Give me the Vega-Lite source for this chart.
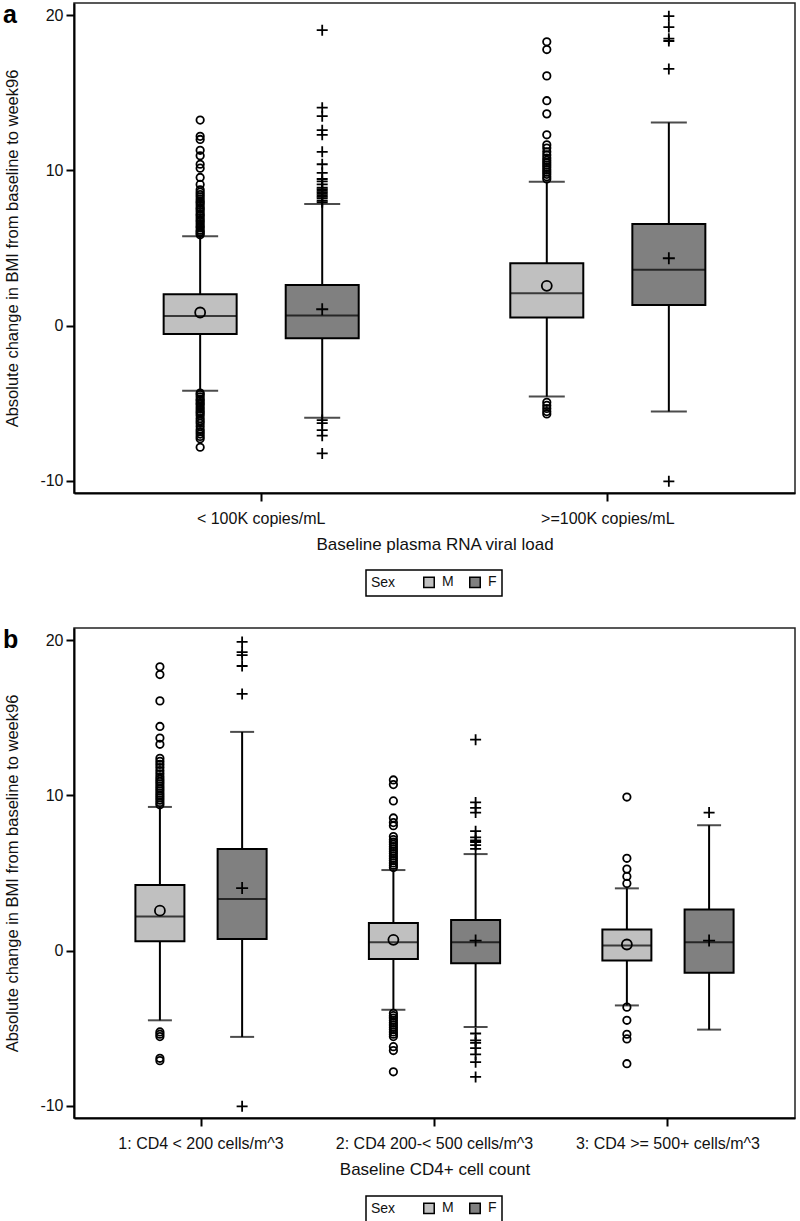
{
  "$schema": "https://vega.github.io/schema/vega-lite/v6.json",
  "background": "white",
  "padding": {"left": 2, "top": 2, "right": 2, "bottom": 2},
  "spacing": 29,
  "datasets": {
    "statsA": [
      {"c": "< 100K copies/mL", "s": "M", "lo": -4.21, "q1": -0.54, "med": 0.62, "q3": 2.02, "hi": 5.76, "mean": 0.84},
      {"c": "< 100K copies/mL", "s": "F", "lo": -5.94, "q1": -0.82, "med": 0.65, "q3": 2.62, "hi": 7.83, "mean": 1.05},
      {"c": ">=100K copies/mL", "s": "M", "lo": -4.58, "q1": 0.52, "med": 2.08, "q3": 4.02, "hi": 9.27, "mean": 2.56},
      {"c": ">=100K copies/mL", "s": "F", "lo": -5.55, "q1": 1.33, "med": 3.59, "q3": 6.54, "hi": 13.1, "mean": 4.34}
    ],
    "outA": [
      {"c": "< 100K copies/mL", "s": "M", "v": 5.85}, {"c": "< 100K copies/mL", "s": "M", "v": 5.95}, {"c": "< 100K copies/mL", "s": "M", "v": 6.05}, {"c": "< 100K copies/mL", "s": "M", "v": 6.15},
      {"c": "< 100K copies/mL", "s": "M", "v": 6.3}, {"c": "< 100K copies/mL", "s": "M", "v": 6.4}, {"c": "< 100K copies/mL", "s": "M", "v": 6.55}, {"c": "< 100K copies/mL", "s": "M", "v": 6.7},
      {"c": "< 100K copies/mL", "s": "M", "v": 6.8}, {"c": "< 100K copies/mL", "s": "M", "v": 6.95}, {"c": "< 100K copies/mL", "s": "M", "v": 7.1}, {"c": "< 100K copies/mL", "s": "M", "v": 7.2},
      {"c": "< 100K copies/mL", "s": "M", "v": 7.35}, {"c": "< 100K copies/mL", "s": "M", "v": 7.5}, {"c": "< 100K copies/mL", "s": "M", "v": 7.6}, {"c": "< 100K copies/mL", "s": "M", "v": 7.75},
      {"c": "< 100K copies/mL", "s": "M", "v": 7.9}, {"c": "< 100K copies/mL", "s": "M", "v": 8.0}, {"c": "< 100K copies/mL", "s": "M", "v": 8.15}, {"c": "< 100K copies/mL", "s": "M", "v": 8.3},
      {"c": "< 100K copies/mL", "s": "M", "v": 8.45}, {"c": "< 100K copies/mL", "s": "M", "v": 8.6}, {"c": "< 100K copies/mL", "s": "M", "v": 8.75}, {"c": "< 100K copies/mL", "s": "M", "v": 9.1},
      {"c": "< 100K copies/mL", "s": "M", "v": 9.55}, {"c": "< 100K copies/mL", "s": "M", "v": 10.15}, {"c": "< 100K copies/mL", "s": "M", "v": 10.4}, {"c": "< 100K copies/mL", "s": "M", "v": 10.95},
      {"c": "< 100K copies/mL", "s": "M", "v": 11.3}, {"c": "< 100K copies/mL", "s": "M", "v": 12.0}, {"c": "< 100K copies/mL", "s": "M", "v": 12.2}, {"c": "< 100K copies/mL", "s": "M", "v": 13.25},
      {"c": "< 100K copies/mL", "s": "M", "v": -4.35}, {"c": "< 100K copies/mL", "s": "M", "v": -4.45}, {"c": "< 100K copies/mL", "s": "M", "v": -4.6}, {"c": "< 100K copies/mL", "s": "M", "v": -4.75},
      {"c": "< 100K copies/mL", "s": "M", "v": -4.85}, {"c": "< 100K copies/mL", "s": "M", "v": -5.0}, {"c": "< 100K copies/mL", "s": "M", "v": -5.1}, {"c": "< 100K copies/mL", "s": "M", "v": -5.25},
      {"c": "< 100K copies/mL", "s": "M", "v": -5.4}, {"c": "< 100K copies/mL", "s": "M", "v": -5.55}, {"c": "< 100K copies/mL", "s": "M", "v": -5.65}, {"c": "< 100K copies/mL", "s": "M", "v": -5.8},
      {"c": "< 100K copies/mL", "s": "M", "v": -6.0}, {"c": "< 100K copies/mL", "s": "M", "v": -6.15}, {"c": "< 100K copies/mL", "s": "M", "v": -6.3}, {"c": "< 100K copies/mL", "s": "M", "v": -6.5},
      {"c": "< 100K copies/mL", "s": "M", "v": -6.7}, {"c": "< 100K copies/mL", "s": "M", "v": -6.85}, {"c": "< 100K copies/mL", "s": "M", "v": -7.0}, {"c": "< 100K copies/mL", "s": "M", "v": -7.15},
      {"c": "< 100K copies/mL", "s": "M", "v": -7.3}, {"c": "< 100K copies/mL", "s": "M", "v": -7.85},
      {"c": "< 100K copies/mL", "s": "F", "v": 7.95}, {"c": "< 100K copies/mL", "s": "F", "v": 8.05}, {"c": "< 100K copies/mL", "s": "F", "v": 8.2}, {"c": "< 100K copies/mL", "s": "F", "v": 8.3},
      {"c": "< 100K copies/mL", "s": "F", "v": 8.4}, {"c": "< 100K copies/mL", "s": "F", "v": 8.5}, {"c": "< 100K copies/mL", "s": "F", "v": 8.6}, {"c": "< 100K copies/mL", "s": "F", "v": 8.7},
      {"c": "< 100K copies/mL", "s": "F", "v": 8.8}, {"c": "< 100K copies/mL", "s": "F", "v": 8.9}, {"c": "< 100K copies/mL", "s": "F", "v": 9.1}, {"c": "< 100K copies/mL", "s": "F", "v": 9.3},
      {"c": "< 100K copies/mL", "s": "F", "v": 9.45}, {"c": "< 100K copies/mL", "s": "F", "v": 9.85}, {"c": "< 100K copies/mL", "s": "F", "v": 10.4}, {"c": "< 100K copies/mL", "s": "F", "v": 11.2},
      {"c": "< 100K copies/mL", "s": "F", "v": 12.3}, {"c": "< 100K copies/mL", "s": "F", "v": 12.6}, {"c": "< 100K copies/mL", "s": "F", "v": 13.5}, {"c": "< 100K copies/mL", "s": "F", "v": 14.05},
      {"c": "< 100K copies/mL", "s": "F", "v": 19.05},
      {"c": "< 100K copies/mL", "s": "F", "v": -6.1}, {"c": "< 100K copies/mL", "s": "F", "v": -6.3}, {"c": "< 100K copies/mL", "s": "F", "v": -6.75}, {"c": "< 100K copies/mL", "s": "F", "v": -7.1},
      {"c": "< 100K copies/mL", "s": "F", "v": -8.25},
      {"c": ">=100K copies/mL", "s": "M", "v": 9.45}, {"c": ">=100K copies/mL", "s": "M", "v": 9.6}, {"c": ">=100K copies/mL", "s": "M", "v": 9.75}, {"c": ">=100K copies/mL", "s": "M", "v": 9.9},
      {"c": ">=100K copies/mL", "s": "M", "v": 10.05}, {"c": ">=100K copies/mL", "s": "M", "v": 10.2}, {"c": ">=100K copies/mL", "s": "M", "v": 10.35}, {"c": ">=100K copies/mL", "s": "M", "v": 10.5},
      {"c": ">=100K copies/mL", "s": "M", "v": 10.65}, {"c": ">=100K copies/mL", "s": "M", "v": 10.8}, {"c": ">=100K copies/mL", "s": "M", "v": 11.0}, {"c": ">=100K copies/mL", "s": "M", "v": 11.2},
      {"c": ">=100K copies/mL", "s": "M", "v": 11.45}, {"c": ">=100K copies/mL", "s": "M", "v": 11.65}, {"c": ">=100K copies/mL", "s": "M", "v": 12.3}, {"c": ">=100K copies/mL", "s": "M", "v": 13.65},
      {"c": ">=100K copies/mL", "s": "M", "v": 14.5}, {"c": ">=100K copies/mL", "s": "M", "v": 16.1}, {"c": ">=100K copies/mL", "s": "M", "v": 17.8}, {"c": ">=100K copies/mL", "s": "M", "v": 18.3},
      {"c": ">=100K copies/mL", "s": "M", "v": -4.95}, {"c": ">=100K copies/mL", "s": "M", "v": -5.15}, {"c": ">=100K copies/mL", "s": "M", "v": -5.35}, {"c": ">=100K copies/mL", "s": "M", "v": -5.55},
      {"c": ">=100K copies/mL", "s": "M", "v": -5.7},
      {"c": ">=100K copies/mL", "s": "F", "v": 16.55}, {"c": ">=100K copies/mL", "s": "F", "v": 18.35}, {"c": ">=100K copies/mL", "s": "F", "v": 18.5}, {"c": ">=100K copies/mL", "s": "F", "v": 19.25},
      {"c": ">=100K copies/mL", "s": "F", "v": 19.95}, {"c": ">=100K copies/mL", "s": "F", "v": -10.05}
    ],
    "statsB": [
      {"c": "1: CD4 < 200 cells/m^3", "s": "M", "lo": -4.5, "q1": 0.6, "med": 2.19, "q3": 4.22, "hi": 9.26, "mean": 2.57},
      {"c": "1: CD4 < 200 cells/m^3", "s": "F", "lo": -5.57, "q1": 0.75, "med": 3.32, "q3": 6.54, "hi": 14.1, "mean": 4.03},
      {"c": "2: CD4 200-< 500 cells/m^3", "s": "M", "lo": -3.82, "q1": -0.54, "med": 0.54, "q3": 1.78, "hi": 5.19, "mean": 0.69},
      {"c": "2: CD4 200-< 500 cells/m^3", "s": "F", "lo": -4.93, "q1": -0.82, "med": 0.54, "q3": 1.97, "hi": 6.22, "mean": 0.64},
      {"c": "3: CD4 >= 500+ cells/m^3", "s": "M", "lo": -3.54, "q1": -0.64, "med": 0.32, "q3": 1.35, "hi": 4.01, "mean": 0.39},
      {"c": "3: CD4 >= 500+ cells/m^3", "s": "F", "lo": -5.1, "q1": -1.44, "med": 0.54, "q3": 2.64, "hi": 8.08, "mean": 0.64}
    ],
    "outB": [
      {"c": "1: CD4 < 200 cells/m^3", "s": "M", "v": 9.4}, {"c": "1: CD4 < 200 cells/m^3", "s": "M", "v": 9.55}, {"c": "1: CD4 < 200 cells/m^3", "s": "M", "v": 9.7}, {"c": "1: CD4 < 200 cells/m^3", "s": "M", "v": 9.85},
      {"c": "1: CD4 < 200 cells/m^3", "s": "M", "v": 10.0}, {"c": "1: CD4 < 200 cells/m^3", "s": "M", "v": 10.15}, {"c": "1: CD4 < 200 cells/m^3", "s": "M", "v": 10.3}, {"c": "1: CD4 < 200 cells/m^3", "s": "M", "v": 10.45},
      {"c": "1: CD4 < 200 cells/m^3", "s": "M", "v": 10.6}, {"c": "1: CD4 < 200 cells/m^3", "s": "M", "v": 10.75}, {"c": "1: CD4 < 200 cells/m^3", "s": "M", "v": 10.9}, {"c": "1: CD4 < 200 cells/m^3", "s": "M", "v": 11.05},
      {"c": "1: CD4 < 200 cells/m^3", "s": "M", "v": 11.2}, {"c": "1: CD4 < 200 cells/m^3", "s": "M", "v": 11.4}, {"c": "1: CD4 < 200 cells/m^3", "s": "M", "v": 11.6}, {"c": "1: CD4 < 200 cells/m^3", "s": "M", "v": 11.8},
      {"c": "1: CD4 < 200 cells/m^3", "s": "M", "v": 12.0}, {"c": "1: CD4 < 200 cells/m^3", "s": "M", "v": 12.2}, {"c": "1: CD4 < 200 cells/m^3", "s": "M", "v": 12.4}, {"c": "1: CD4 < 200 cells/m^3", "s": "M", "v": 13.3},
      {"c": "1: CD4 < 200 cells/m^3", "s": "M", "v": 13.7}, {"c": "1: CD4 < 200 cells/m^3", "s": "M", "v": 14.45}, {"c": "1: CD4 < 200 cells/m^3", "s": "M", "v": 16.1}, {"c": "1: CD4 < 200 cells/m^3", "s": "M", "v": 17.8},
      {"c": "1: CD4 < 200 cells/m^3", "s": "M", "v": 18.3},
      {"c": "1: CD4 < 200 cells/m^3", "s": "M", "v": -5.25}, {"c": "1: CD4 < 200 cells/m^3", "s": "M", "v": -5.4}, {"c": "1: CD4 < 200 cells/m^3", "s": "M", "v": -5.55}, {"c": "1: CD4 < 200 cells/m^3", "s": "M", "v": -6.95},
      {"c": "1: CD4 < 200 cells/m^3", "s": "M", "v": -7.1},
      {"c": "1: CD4 < 200 cells/m^3", "s": "F", "v": 16.55}, {"c": "1: CD4 < 200 cells/m^3", "s": "F", "v": 18.35}, {"c": "1: CD4 < 200 cells/m^3", "s": "F", "v": 19.05}, {"c": "1: CD4 < 200 cells/m^3", "s": "F", "v": 19.25},
      {"c": "1: CD4 < 200 cells/m^3", "s": "F", "v": 19.9}, {"c": "1: CD4 < 200 cells/m^3", "s": "F", "v": -10.05},
      {"c": "2: CD4 200-< 500 cells/m^3", "s": "M", "v": 5.35}, {"c": "2: CD4 200-< 500 cells/m^3", "s": "M", "v": 5.5}, {"c": "2: CD4 200-< 500 cells/m^3", "s": "M", "v": 5.65}, {"c": "2: CD4 200-< 500 cells/m^3", "s": "M", "v": 5.8},
      {"c": "2: CD4 200-< 500 cells/m^3", "s": "M", "v": 5.95}, {"c": "2: CD4 200-< 500 cells/m^3", "s": "M", "v": 6.1}, {"c": "2: CD4 200-< 500 cells/m^3", "s": "M", "v": 6.25}, {"c": "2: CD4 200-< 500 cells/m^3", "s": "M", "v": 6.4},
      {"c": "2: CD4 200-< 500 cells/m^3", "s": "M", "v": 6.55}, {"c": "2: CD4 200-< 500 cells/m^3", "s": "M", "v": 6.7}, {"c": "2: CD4 200-< 500 cells/m^3", "s": "M", "v": 6.85}, {"c": "2: CD4 200-< 500 cells/m^3", "s": "M", "v": 7.0},
      {"c": "2: CD4 200-< 500 cells/m^3", "s": "M", "v": 7.15}, {"c": "2: CD4 200-< 500 cells/m^3", "s": "M", "v": 7.35}, {"c": "2: CD4 200-< 500 cells/m^3", "s": "M", "v": 8.05}, {"c": "2: CD4 200-< 500 cells/m^3", "s": "M", "v": 8.25},
      {"c": "2: CD4 200-< 500 cells/m^3", "s": "M", "v": 8.55}, {"c": "2: CD4 200-< 500 cells/m^3", "s": "M", "v": 9.65}, {"c": "2: CD4 200-< 500 cells/m^3", "s": "M", "v": 10.7}, {"c": "2: CD4 200-< 500 cells/m^3", "s": "M", "v": 11.0},
      {"c": "2: CD4 200-< 500 cells/m^3", "s": "M", "v": -4.05}, {"c": "2: CD4 200-< 500 cells/m^3", "s": "M", "v": -4.2}, {"c": "2: CD4 200-< 500 cells/m^3", "s": "M", "v": -4.35}, {"c": "2: CD4 200-< 500 cells/m^3", "s": "M", "v": -4.5},
      {"c": "2: CD4 200-< 500 cells/m^3", "s": "M", "v": -4.65}, {"c": "2: CD4 200-< 500 cells/m^3", "s": "M", "v": -4.8}, {"c": "2: CD4 200-< 500 cells/m^3", "s": "M", "v": -4.95}, {"c": "2: CD4 200-< 500 cells/m^3", "s": "M", "v": -5.1},
      {"c": "2: CD4 200-< 500 cells/m^3", "s": "M", "v": -5.25}, {"c": "2: CD4 200-< 500 cells/m^3", "s": "M", "v": -5.4}, {"c": "2: CD4 200-< 500 cells/m^3", "s": "M", "v": -5.55}, {"c": "2: CD4 200-< 500 cells/m^3", "s": "M", "v": -6.2},
      {"c": "2: CD4 200-< 500 cells/m^3", "s": "M", "v": -6.45}, {"c": "2: CD4 200-< 500 cells/m^3", "s": "M", "v": -7.82},
      {"c": "2: CD4 200-< 500 cells/m^3", "s": "F", "v": 6.55}, {"c": "2: CD4 200-< 500 cells/m^3", "s": "F", "v": 6.8}, {"c": "2: CD4 200-< 500 cells/m^3", "s": "F", "v": 7.0}, {"c": "2: CD4 200-< 500 cells/m^3", "s": "F", "v": 7.1},
      {"c": "2: CD4 200-< 500 cells/m^3", "s": "F", "v": 7.3}, {"c": "2: CD4 200-< 500 cells/m^3", "s": "F", "v": 7.7}, {"c": "2: CD4 200-< 500 cells/m^3", "s": "F", "v": 8.9}, {"c": "2: CD4 200-< 500 cells/m^3", "s": "F", "v": 9.2},
      {"c": "2: CD4 200-< 500 cells/m^3", "s": "F", "v": 9.55}, {"c": "2: CD4 200-< 500 cells/m^3", "s": "F", "v": 13.6},
      {"c": "2: CD4 200-< 500 cells/m^3", "s": "F", "v": -5.35}, {"c": "2: CD4 200-< 500 cells/m^3", "s": "F", "v": -5.8}, {"c": "2: CD4 200-< 500 cells/m^3", "s": "F", "v": -5.95}, {"c": "2: CD4 200-< 500 cells/m^3", "s": "F", "v": -6.3},
      {"c": "2: CD4 200-< 500 cells/m^3", "s": "F", "v": -6.7}, {"c": "2: CD4 200-< 500 cells/m^3", "s": "F", "v": -7.2}, {"c": "2: CD4 200-< 500 cells/m^3", "s": "F", "v": -8.15},
      {"c": "3: CD4 >= 500+ cells/m^3", "s": "M", "v": 4.33}, {"c": "3: CD4 >= 500+ cells/m^3", "s": "M", "v": 4.78}, {"c": "3: CD4 >= 500+ cells/m^3", "s": "M", "v": 5.25}, {"c": "3: CD4 >= 500+ cells/m^3", "s": "M", "v": 5.95},
      {"c": "3: CD4 >= 500+ cells/m^3", "s": "M", "v": 9.9},
      {"c": "3: CD4 >= 500+ cells/m^3", "s": "M", "v": -3.65}, {"c": "3: CD4 >= 500+ cells/m^3", "s": "M", "v": -4.5}, {"c": "3: CD4 >= 500+ cells/m^3", "s": "M", "v": -5.4}, {"c": "3: CD4 >= 500+ cells/m^3", "s": "M", "v": -5.7},
      {"c": "3: CD4 >= 500+ cells/m^3", "s": "M", "v": -7.3},
      {"c": "3: CD4 >= 500+ cells/m^3", "s": "F", "v": 8.9}
    ]
  },
  "vconcat": [
    {
      "width": 721,
      "height": 490,
      "title": {"text": "a", "anchor": "start", "frame": "group", "orient": "top", "dx": -71},
      "encoding": {
        "x": {"field": "c", "type": "nominal", "sort": null, "title": "Baseline plasma RNA viral load", "scale": {"type": "band", "paddingInner": 0, "paddingOuter": 0.04}},
        "xOffset": {"field": "s", "type": "nominal", "sort": ["M", "F"], "scale": {"domain": ["M", "F"], "paddingInner": 0, "paddingOuter": 0.42}}
      },
      "layer": [
        {"data": {"name": "statsA"}, "mark": {"type": "rule", "color": "black", "strokeWidth": 2},
         "encoding": {"y": {"field": "lo", "type": "quantitative", "scale": {"domain": [-10.8, 20.8], "nice": false, "zero": false}, "axis": {"values": [-10, 0, 10, 20]}, "title": "Absolute change in BMI from baseline to week96"}, "y2": {"field": "hi"}}},
        {"data": {"name": "statsA"}, "mark": {"type": "bar", "stroke": "black", "strokeWidth": 2, "width": 73},
         "encoding": {"y": {"field": "q1", "type": "quantitative", "scale": {"domain": [-10.8, 20.8], "nice": false, "zero": false}, "axis": {"values": [-10, 0, 10, 20]}, "title": "Absolute change in BMI from baseline to week96"}, "y2": {"field": "q3"},
           "fill": {"field": "s", "type": "nominal", "scale": {"domain": ["M", "F"], "range": ["#C0C0C0", "#808080"]},
             "legend": {"title": "Sex", "orient": "none", "legendX": 292, "legendY": 567, "direction": "horizontal", "titleOrient": "left", "strokeColor": "black", "padding": 5, "titlePadding": 26, "columnPadding": 12, "labelOffset": 6, "symbolType": "square", "symbolSize": 110, "symbolStrokeColor": "black", "symbolStrokeWidth": 1.5, "titleFontSize": 14, "titleFontWeight": "normal", "labelFontSize": 14, "titleFont": "Liberation Sans", "labelFont": "Liberation Sans", "titleColor": "#111", "labelColor": "#111"}}}},
        {"data": {"name": "statsA"}, "mark": {"type": "tick", "color": "black", "size": 73, "thickness": 2},
         "encoding": {"y": {"field": "med", "type": "quantitative", "scale": {"domain": [-10.8, 20.8], "nice": false, "zero": false}, "axis": {"values": [-10, 0, 10, 20]}, "title": "Absolute change in BMI from baseline to week96"}}},
        {"data": {"name": "statsA"}, "mark": {"type": "tick", "color": "black", "size": 36, "thickness": 2},
         "encoding": {"y": {"field": "lo", "type": "quantitative", "scale": {"domain": [-10.8, 20.8], "nice": false, "zero": false}, "axis": {"values": [-10, 0, 10, 20]}, "title": "Absolute change in BMI from baseline to week96"}}},
        {"data": {"name": "statsA"}, "mark": {"type": "tick", "color": "black", "size": 36, "thickness": 2},
         "encoding": {"y": {"field": "hi", "type": "quantitative", "scale": {"domain": [-10.8, 20.8], "nice": false, "zero": false}, "axis": {"values": [-10, 0, 10, 20]}, "title": "Absolute change in BMI from baseline to week96"}}},
        {"data": {"name": "statsA"}, "transform": [{"filter": "datum.s == 'M'"}], "mark": {"type": "point", "shape": "circle", "filled": false, "stroke": "black", "strokeWidth": 1.8, "size": 100, "opacity": 1},
         "encoding": {"y": {"field": "mean", "type": "quantitative", "scale": {"domain": [-10.8, 20.8], "nice": false, "zero": false}, "axis": {"values": [-10, 0, 10, 20]}, "title": "Absolute change in BMI from baseline to week96"}}},
        {"data": {"name": "statsA"}, "transform": [{"filter": "datum.s == 'F'"}], "mark": {"type": "point", "shape": "M-1,0H1M0,-1V1", "filled": false, "stroke": "black", "strokeWidth": 1.8, "size": 144, "opacity": 1},
         "encoding": {"y": {"field": "mean", "type": "quantitative", "scale": {"domain": [-10.8, 20.8], "nice": false, "zero": false}, "axis": {"values": [-10, 0, 10, 20]}, "title": "Absolute change in BMI from baseline to week96"}}},
        {"data": {"name": "outA"}, "transform": [{"filter": "datum.s == 'M'"}], "mark": {"type": "point", "shape": "circle", "filled": false, "stroke": "black", "strokeWidth": 1.8, "size": 55, "opacity": 1},
         "encoding": {"y": {"field": "v", "type": "quantitative", "scale": {"domain": [-10.8, 20.8], "nice": false, "zero": false}, "axis": {"values": [-10, 0, 10, 20]}, "title": "Absolute change in BMI from baseline to week96"}}},
        {"data": {"name": "outA"}, "transform": [{"filter": "datum.s == 'F'"}], "mark": {"type": "point", "shape": "M-1,0H1M0,-1V1", "filled": false, "stroke": "black", "strokeWidth": 1.8, "size": 121, "opacity": 1},
         "encoding": {"y": {"field": "v", "type": "quantitative", "scale": {"domain": [-10.8, 20.8], "nice": false, "zero": false}, "axis": {"values": [-10, 0, 10, 20]}, "title": "Absolute change in BMI from baseline to week96"}}}
      ]
    },
    {
      "width": 721,
      "height": 490,
      "title": {"text": "b", "anchor": "start", "frame": "group", "orient": "top", "dx": -71},
      "encoding": {
        "x": {"field": "c", "type": "nominal", "sort": null, "title": "Baseline CD4+ cell count", "scale": {"type": "band", "paddingInner": 0, "paddingOuter": 0.044}},
        "xOffset": {"field": "s", "type": "nominal", "sort": ["M", "F"], "scale": {"domain": ["M", "F"], "paddingInner": 0, "paddingOuter": 0.42}}
      },
      "layer": [
        {"data": {"name": "statsB"}, "mark": {"type": "rule", "color": "black", "strokeWidth": 2},
         "encoding": {"y": {"field": "lo", "type": "quantitative", "scale": {"domain": [-10.8, 20.8], "nice": false, "zero": false}, "axis": {"values": [-10, 0, 10, 20]}, "title": "Absolute change in BMI from baseline to week96"}, "y2": {"field": "hi"}}},
        {"data": {"name": "statsB"}, "mark": {"type": "bar", "stroke": "black", "strokeWidth": 2, "width": 49},
         "encoding": {"y": {"field": "q1", "type": "quantitative", "scale": {"domain": [-10.8, 20.8], "nice": false, "zero": false}, "axis": {"values": [-10, 0, 10, 20]}, "title": "Absolute change in BMI from baseline to week96"}, "y2": {"field": "q3"},
           "fill": {"field": "s", "type": "nominal", "scale": {"domain": ["M", "F"], "range": ["#C0C0C0", "#808080"]},
             "legend": {"title": "Sex", "orient": "none", "legendX": 292, "legendY": 568, "direction": "horizontal", "titleOrient": "left", "strokeColor": "black", "padding": 5, "titlePadding": 26, "columnPadding": 12, "labelOffset": 6, "symbolType": "square", "symbolSize": 110, "symbolStrokeColor": "black", "symbolStrokeWidth": 1.5, "titleFontSize": 14, "titleFontWeight": "normal", "labelFontSize": 14, "titleFont": "Liberation Sans", "labelFont": "Liberation Sans", "titleColor": "#111", "labelColor": "#111"}}}},
        {"data": {"name": "statsB"}, "mark": {"type": "tick", "color": "black", "size": 49, "thickness": 2},
         "encoding": {"y": {"field": "med", "type": "quantitative", "scale": {"domain": [-10.8, 20.8], "nice": false, "zero": false}, "axis": {"values": [-10, 0, 10, 20]}, "title": "Absolute change in BMI from baseline to week96"}}},
        {"data": {"name": "statsB"}, "mark": {"type": "tick", "color": "black", "size": 24, "thickness": 2},
         "encoding": {"y": {"field": "lo", "type": "quantitative", "scale": {"domain": [-10.8, 20.8], "nice": false, "zero": false}, "axis": {"values": [-10, 0, 10, 20]}, "title": "Absolute change in BMI from baseline to week96"}}},
        {"data": {"name": "statsB"}, "mark": {"type": "tick", "color": "black", "size": 24, "thickness": 2},
         "encoding": {"y": {"field": "hi", "type": "quantitative", "scale": {"domain": [-10.8, 20.8], "nice": false, "zero": false}, "axis": {"values": [-10, 0, 10, 20]}, "title": "Absolute change in BMI from baseline to week96"}}},
        {"data": {"name": "statsB"}, "transform": [{"filter": "datum.s == 'M'"}], "mark": {"type": "point", "shape": "circle", "filled": false, "stroke": "black", "strokeWidth": 1.8, "size": 100, "opacity": 1},
         "encoding": {"y": {"field": "mean", "type": "quantitative", "scale": {"domain": [-10.8, 20.8], "nice": false, "zero": false}, "axis": {"values": [-10, 0, 10, 20]}, "title": "Absolute change in BMI from baseline to week96"}}},
        {"data": {"name": "statsB"}, "transform": [{"filter": "datum.s == 'F'"}], "mark": {"type": "point", "shape": "M-1,0H1M0,-1V1", "filled": false, "stroke": "black", "strokeWidth": 1.8, "size": 144, "opacity": 1},
         "encoding": {"y": {"field": "mean", "type": "quantitative", "scale": {"domain": [-10.8, 20.8], "nice": false, "zero": false}, "axis": {"values": [-10, 0, 10, 20]}, "title": "Absolute change in BMI from baseline to week96"}}},
        {"data": {"name": "outB"}, "transform": [{"filter": "datum.s == 'M'"}], "mark": {"type": "point", "shape": "circle", "filled": false, "stroke": "black", "strokeWidth": 1.8, "size": 55, "opacity": 1},
         "encoding": {"y": {"field": "v", "type": "quantitative", "scale": {"domain": [-10.8, 20.8], "nice": false, "zero": false}, "axis": {"values": [-10, 0, 10, 20]}, "title": "Absolute change in BMI from baseline to week96"}}},
        {"data": {"name": "outB"}, "transform": [{"filter": "datum.s == 'F'"}], "mark": {"type": "point", "shape": "M-1,0H1M0,-1V1", "filled": false, "stroke": "black", "strokeWidth": 1.8, "size": 121, "opacity": 1},
         "encoding": {"y": {"field": "v", "type": "quantitative", "scale": {"domain": [-10.8, 20.8], "nice": false, "zero": false}, "axis": {"values": [-10, 0, 10, 20]}, "title": "Absolute change in BMI from baseline to week96"}}}
      ]
    }
  ],
  "resolve": {
    "scale": {"x": "independent", "y": "independent", "xOffset": "independent", "fill": "independent"},
    "legend": {"fill": "independent"}
  },
  "config": {
    "view": {"stroke": "#222", "strokeWidth": 1.5},
    "font": "Liberation Sans",
    "title": {"font": "Liberation Sans", "fontSize": 25, "fontWeight": "bold", "color": "black", "baseline": "alphabetic", "offset": -25, "anchor": "start", "frame": "group"},
    "axis": {"labelFont": "Liberation Sans", "titleFont": "Liberation Sans", "labelFontSize": 16, "titleFontSize": 17, "titleFontWeight": "normal", "labelColor": "#111", "titleColor": "#111", "tickColor": "black", "tickWidth": 2, "tickSize": 8, "domainColor": "black", "domainWidth": 2, "grid": false, "labelLimit": 400},
    "axisY": {"labelPadding": 3, "titlePadding": 19, "titleFontSize": 16.5, "labelExpr": "'' + datum.value"},
    "axisX": {"labelAngle": 0, "labelPadding": 9, "titlePadding": 10},
    "legend": {"strokeWidth": 1.5}
  }
}
